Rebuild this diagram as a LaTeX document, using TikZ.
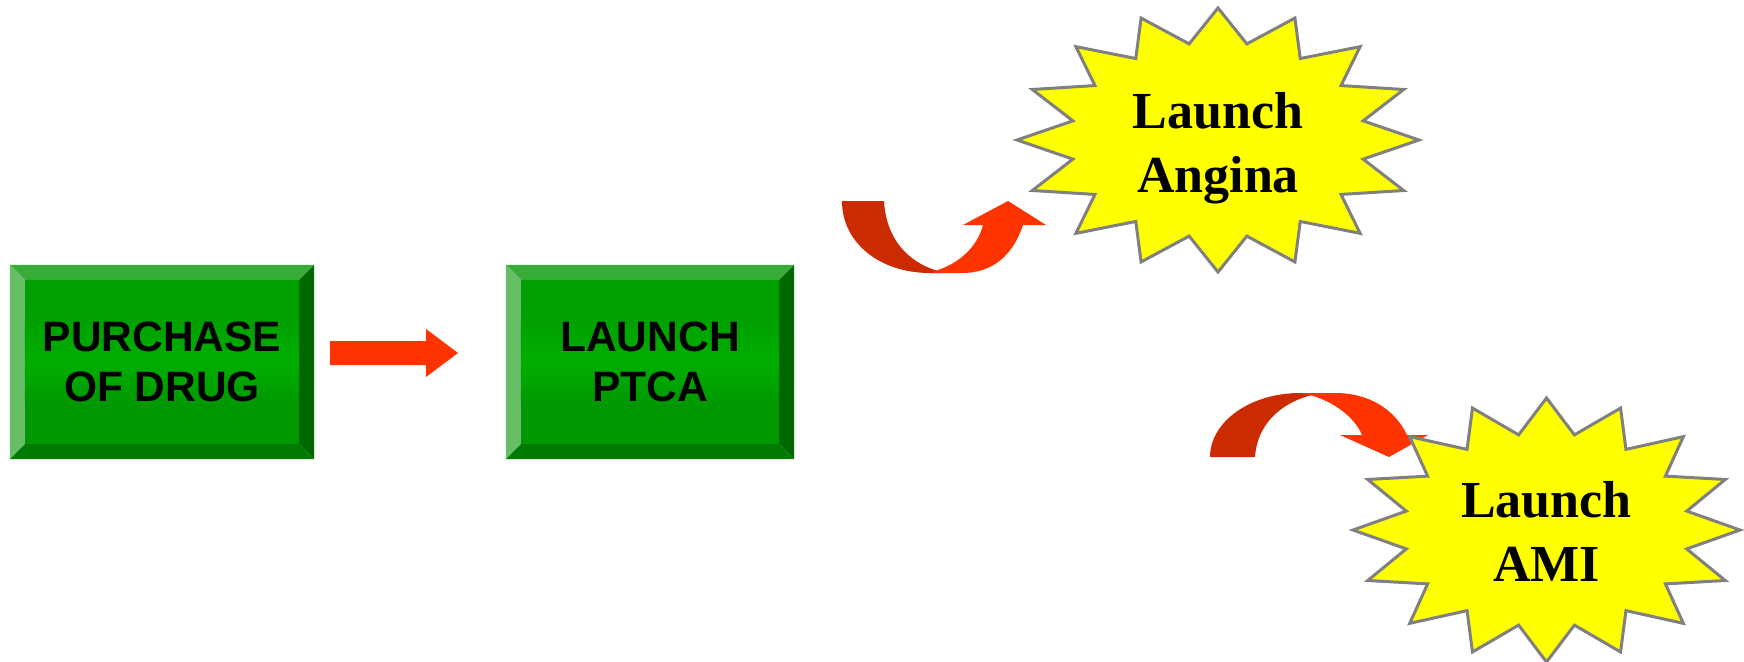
\documentclass[tikz,border=0pt]{standalone}
\usepackage{fontspec}
\setmainfont{Liberation Serif}
\setsansfont{Liberation Sans}
\usetikzlibrary{calc}
\definecolor{bevT}{HTML}{38AC38}
\definecolor{bevL}{HTML}{66BF66}
\definecolor{bevR}{HTML}{006600}
\definecolor{bevB}{HTML}{007A00}
\definecolor{faceT}{HTML}{00A000}
\definecolor{faceM}{HTML}{00AE00}
\definecolor{faceB}{HTML}{009800}
\definecolor{arrBright}{HTML}{FF3300}
\definecolor{arrDark}{HTML}{CC2A00}
\definecolor{starEdge}{HTML}{808080}
\definecolor{starFill}{HTML}{FFFF00}
\newcommand\bevelframe[2]{%
  \fill[bevT] ($(#1.north west)+(-15,-15)$) -- ($(#1.north east)+(15,-15)$) -- (#1.north east) -- (#1.north west) -- cycle;
  \fill[bevL] ($(#1.north west)+(-15,-15)$) -- (#1.north west) -- (#1.south west) -- ($(#1.south west)+(-15,15)$) -- cycle;
  \fill[bevR] ($(#1.north east)+(15,-15)$) -- ($(#1.south east)+(15,15)$) -- (#1.south east) -- (#1.north east) -- cycle;
  \fill[bevB] ($(#1.south west)+(-15,15)$) -- ($(#1.south east)+(15,15)$) -- (#1.south east) -- (#1.south west) -- cycle;
  \fill[faceT] (#1.north west) rectangle ($(#1.north east)+(0,40)$);
  \fill[faceB] ($(#1.south west)+(0,-40)$) rectangle (#1.south east);
  \shade[top color=faceT, bottom color=faceM] ($(#1.north west)+(0,40)$) rectangle ($(#1.east)+(0,0.5)$);
  \shade[top color=faceM, bottom color=faceB] (#1.west) rectangle ($(#1.south east)+(0,-40)$);
  \node[gtext] (#1-label) at (#1.center) {#2};
}
\begin{document}
\begin{tikzpicture}[x=1pt,y=-1pt,
  gface/.style={inner sep=0pt, minimum height=164pt},
  gtext/.style={inner sep=0pt, align=center, text=black,
    font=\sffamily\bfseries\fontsize{42.5}{50}\selectfont},
  starfill/.style={fill=starFill, draw=starEdge, line width=3pt},
  startext/.style={inner sep=0pt, align=center, text=black,
    font=\rmfamily\bfseries\fontsize{52}{64}\selectfont},
  blockarrow/.style={fill=arrBright},
  backarrow/.style={fill=arrDark}]
\useasboundingbox (0,0) rectangle (1744,661);

% green boxes
\node[gface, minimum width=274pt] (purchase) at (162,362) {};
\bevelframe{purchase}{PURCHASE\\OF DRUG}
\node[gface, minimum width=258pt] (ptca) at (650,362) {};
\bevelframe{ptca}{LAUNCH\\PTCA}

% straight block arrow
\coordinate (a1s) at (330,353);
\coordinate (a1t) at (458,353);
\fill[blockarrow] ($(a1s)+(0,-12)$) -- ($(a1s)+(96,-12)$) -- ($(a1s)+(96,-24)$) -- (a1t)
  -- ($(a1s)+(96,24)$) -- ($(a1s)+(96,12)$) -- ($(a1s)+(0,12)$) -- cycle;

% curved arrow to Angina
\fill[backarrow] (842,201) -- (884,201) .. controls (886,238) and (907,262) .. (938,271)
  -- (940,273) -- (930,273) .. controls (880,273) and (842,243) .. (842,201) -- cycle;
\fill[blockarrow] (935,271) .. controls (958,264) and (977,248) .. (983,225) -- (963,225)
  -- (1008,201) -- (1046,225) -- (1023,225) .. controls (1013,255) and (993,273) .. (962,273)
  -- (932,273) -- cycle;

% curved arrow to AMI
\fill[backarrow] (1210,457) -- (1255,457) .. controls (1257,425) and (1280,403) .. (1312,395)
  -- (1315,393) -- (1300,393) .. controls (1250,393) and (1210,422) .. (1210,457) -- cycle;
\fill[blockarrow] (1310,395) .. controls (1335,402) and (1355,418) .. (1362,435) -- (1340,435)
  -- (1389,457) -- (1428,435) -- (1407,435) .. controls (1395,410) and (1370,393) .. (1335,393)
  -- (1302,393) -- cycle;

% stars
\path[starfill] (1419,140) \foreach \k in {1,...,31} {
  -- ({1218+(201-53*mod(\k,2))*cos(\k*11.25)},{140+(132-34*mod(\k,2))*sin(\k*11.25)}) } -- cycle;
\node[startext] (angina) at (1218,148) {Launch\\Angina};

\path[starfill] (1740,530) \foreach \k in {1,...,31} {
  -- ({1546.5+(193.5-50.5*mod(\k,2))*cos(\k*11.25)},{530+(132-35*mod(\k,2))*sin(\k*11.25)}) } -- cycle;
\node[startext] (ami) at (1546.5,531.6) {Launch\\AMI};
\end{tikzpicture}
\end{document}
